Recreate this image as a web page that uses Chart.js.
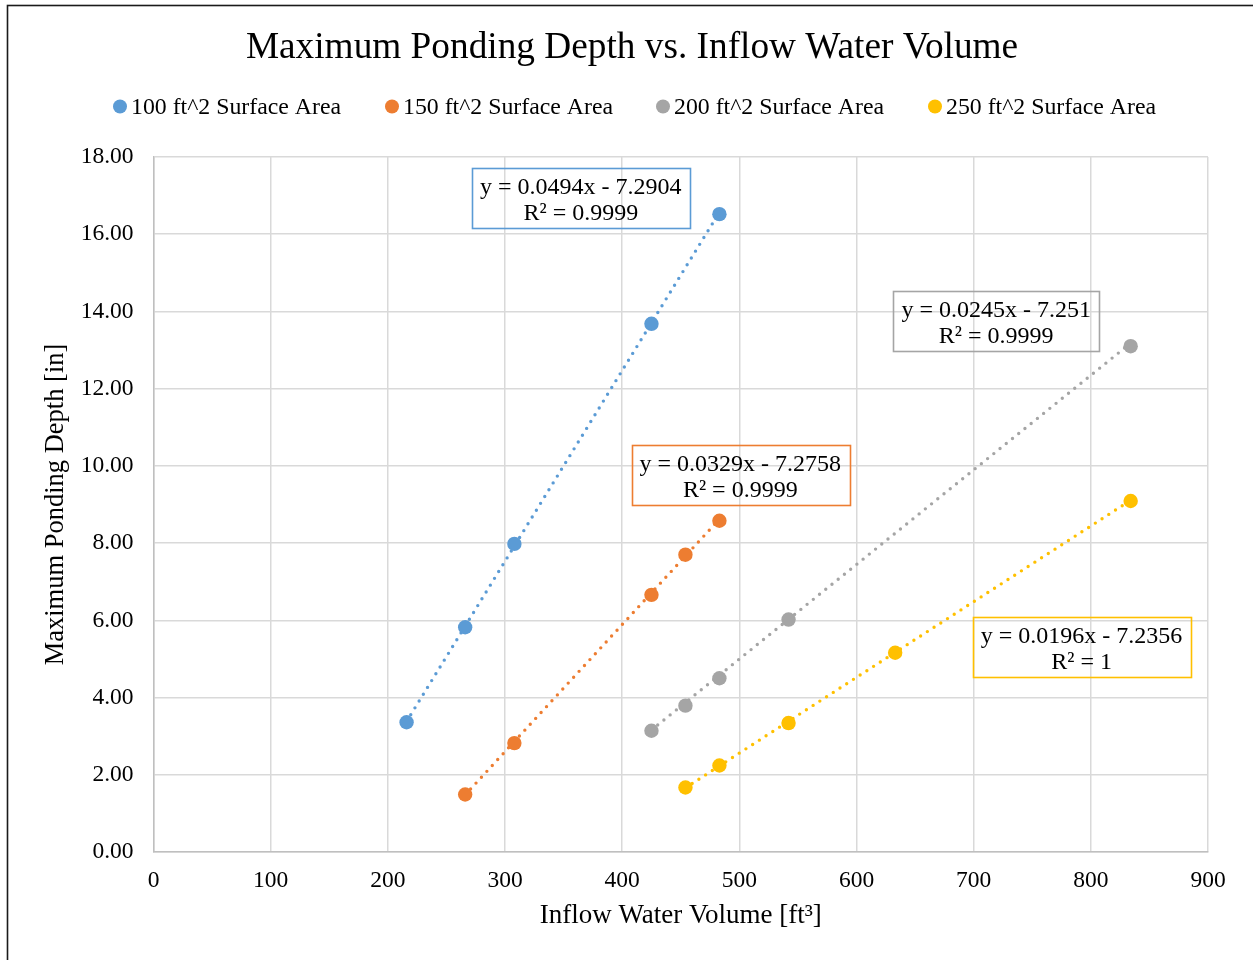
<!DOCTYPE html>
<html>
<head>
<meta charset="utf-8">
<script src="https://cdn.jsdelivr.net/npm/chart.js@4.4.0/dist/chart.umd.min.js"></script>
<style>
html,body{margin:0;padding:0;background:#fff;}
#c{display:block;}
</style>
</head>
<body>
<canvas id="c" width="1253" height="960"></canvas>
<script>
// ---------- data ----------
const chartTitle = 'Maximum Ponding Depth vs. Inflow Water Volume';
const xTitle = 'Inflow Water Volume [ft\u00B3]';
const yTitle = 'Maximum Ponding Depth [in]';
const seriesNames = ['100 ft^2 Surface Area', '150 ft^2 Surface Area', '200 ft^2 Surface Area', '250 ft^2 Surface Area'];

const x100 = [216, 266, 308, 425, 483];
const y100 = [3.36, 5.82, 7.98, 13.68, 16.52];
const x150 = [266, 308, 425, 454, 483];
const y150 = [1.49, 2.82, 6.66, 7.70, 8.58];
const x200 = [425, 454, 483, 542, 834];
const y200 = [3.14, 3.79, 4.50, 6.02, 13.10];
const x250 = [454, 483, 542, 633, 834];
const y250 = [1.67, 2.24, 3.34, 5.16, 9.09];

// trendline end points
const trendX100 = [216, 483]; const trendY100 = [3.38, 16.57];
const trendX150 = [266, 483]; const trendY150 = [1.48, 8.62];
const trendX200 = [425, 834]; const trendY200 = [3.16, 13.18];
const trendX250 = [454, 834]; const trendY250 = [1.66, 9.11];

const eqLine1 = ['y = 0.0494x - 7.2904', 'y = 0.0329x - 7.2758', 'y = 0.0245x - 7.251', 'y = 0.0196x - 7.2356'];
const eqLine2 = ['R\u00B2 = 0.9999', 'R\u00B2 = 0.9999', 'R\u00B2 = 0.9999', 'R\u00B2 = 1'];

const xTickValues = [0, 100, 200, 300, 400, 500, 600, 700, 800, 900];
const yTickValues = [0, 2, 4, 6, 8, 10, 12, 14, 16, 18];

// ---------- styles / layout ----------
const colors = ['#5B9BD5', '#ED7D31', '#A5A5A5', '#FFC000'];
const FONT = "'Liberation Serif', 'Times New Roman', serif";
// label anchor (centre) in data units
const eqAnchorX = [364.7, 500.8, 719.2, 792.1];
const eqAnchorY = [16.93, 9.76, 13.74, 5.32];

function pts(xs, ys) { return xs.map((x, i) => ({x: x, y: ys[i]})); }

const scatterSets = [[x100, y100], [x150, y150], [x200, y200], [x250, y250]];
const trendSets = [[trendX100, trendY100], [trendX150, trendY150], [trendX200, trendY200], [trendX250, trendY250]];

const datasets = [];
scatterSets.forEach((s, i) => {
  datasets.push({
    label: seriesNames[i],
    data: pts(s[0], s[1]),
    backgroundColor: colors[i],
    borderColor: colors[i],
    pointRadius: 7.2,
    pointBorderWidth: 0,
    showLine: false,
    order: 0
  });
});
trendSets.forEach((s, i) => {
  datasets.push({
    label: 'trend ' + seriesNames[i],
    data: pts(s[0], s[1]),
    borderColor: colors[i],
    backgroundColor: colors[i],
    borderWidth: 3.4,
    borderDash: [0, 8],
    borderCapStyle: 'round',
    pointRadius: 0,
    showLine: true,
    fill: false,
    order: 1
  });
});

const deco = {
  id: 'deco',
  beforeDraw(chart) {
    const ctx = chart.ctx;
    ctx.save();
    ctx.fillStyle = '#fff';
    ctx.fillRect(0, 0, chart.width, chart.height);
    ctx.restore();
  },
  afterDraw(chart) {
    const ctx = chart.ctx;
    const xs = chart.scales.x, ys = chart.scales.y;
    ctx.save();
    // outer chart border
    ctx.strokeStyle = '#1a1a1a';
    ctx.lineWidth = 1.6;
    ctx.strokeRect(7.5, 5.5, 1400, 1200);

    // title
    ctx.fillStyle = '#000';
    ctx.font = '37.3px ' + FONT;
    ctx.textAlign = 'center';
    ctx.textBaseline = 'alphabetic';
    ctx.fillText(chartTitle, 632, 58);

    // legend
    const legX = [120, 392, 663, 935];
    ctx.font = '23.8px ' + FONT;
    ctx.textAlign = 'left';
    seriesNames.forEach((n, i) => {
      ctx.fillStyle = colors[i];
      ctx.beginPath();
      ctx.arc(legX[i], 106.5, 7, 0, Math.PI * 2);
      ctx.fill();
      ctx.fillStyle = '#000';
      ctx.fillText(n, legX[i] + 11, 114);
    });

    // equation labels
    ctx.font = '24px ' + FONT;
    ctx.textAlign = 'center';
    eqLine1.forEach((t, i) => {
      const cx = xs.getPixelForValue(eqAnchorX[i]);
      const cy = ys.getPixelForValue(eqAnchorY[i]);
      const w = Math.max(ctx.measureText(t).width, ctx.measureText(eqLine2[i]).width) + 16;
      const h = 60;
      ctx.strokeStyle = colors[i];
      ctx.lineWidth = 1.6;
      ctx.strokeRect(Math.round(cx - w / 2) + 0.5, Math.round(cy - h / 2) + 0.5, Math.round(w), h);
      ctx.fillStyle = '#000';
      ctx.fillText(t, cx, cy - 4);
      ctx.fillText(eqLine2[i], cx, cy + 22);
    });
    ctx.restore();
  }
};

new Chart(document.getElementById('c'), {
  type: 'scatter',
  data: {datasets: datasets},
  plugins: [deco],
  options: {
    responsive: false,
    animation: false,
    layout: {padding: {left: 30, right: 45, top: 157, bottom: 20}},
    plugins: {
      legend: {display: false},
      title: {display: false},
      tooltip: {enabled: false}
    },
    scales: {
      x: {
        type: 'linear',
        min: 0, max: 900,
        afterBuildTicks(scale) { scale.ticks = xTickValues.map(v => ({value: v})); },
        afterFit(scale) { scale.height = 88; },
        ticks: {font: {family: FONT, size: 23.5}, color: '#000', padding: 15, maxRotation: 0},
        grid: {color: '#d9d9d9', lineWidth: 1.5, drawTicks: false},
        border: {color: '#bfbfbf', width: 1.5},
        title: {display: true, text: xTitle, font: {family: FONT, size: 27}, color: '#000', padding: {top: 0, bottom: 8}}
      },
      y: {
        type: 'linear',
        min: 0, max: 18,
        afterBuildTicks(scale) { scale.ticks = yTickValues.map(v => ({value: v})); },
        afterFit(scale) { scale.width = 123.5; },
        ticks: {font: {family: FONT, size: 23.5}, color: '#000', padding: 20, callback: v => Number(v).toFixed(2)},
        grid: {color: '#d9d9d9', lineWidth: 1.5, drawTicks: false},
        border: {color: '#bfbfbf', width: 1.5},
        title: {display: true, text: yTitle, font: {family: FONT, size: 26.5}, color: '#000', padding: {top: 10, bottom: 0}}
      }
    }
  }
});
</script>
</body>
</html>
